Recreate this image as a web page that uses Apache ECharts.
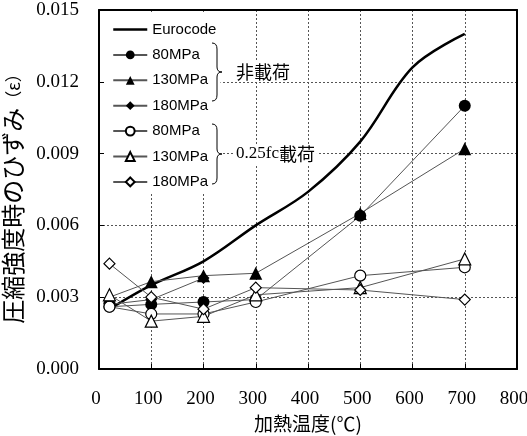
<!DOCTYPE html>
<html>
<head>
<meta charset="utf-8">
<script src="https://cdn.jsdelivr.net/npm/echarts@6/dist/echarts.min.js"></script>
<style>
  html, body { margin: 0; padding: 0; background: #fff; }
  #chart { width: 527px; height: 436px; }
</style>
</head>
<body>
<div id="chart"></div>
<script>
// Heating temperatures (°C) at which specimens were tested
const temps = [20, 100, 200, 300, 500, 700];

// Eurocode strain at peak stress
const eurocodeTemps = [20, 100, 200, 300, 400, 500, 600, 700];
const eurocode = [0.0025, 0.0035, 0.0045, 0.0060, 0.0074, 0.0095, 0.0126, 0.0140];

// Unloaded specimens (非載荷)
const unloaded80 = [0.0026, 0.0027, 0.0028, 0.0029, 0.0064, 0.0110];
const unloaded130 = [0.0030, 0.00365, 0.0039, 0.0040, 0.0065, 0.0092];
const unloaded180 = [0.0027, 0.0029, 0.0038, null, null, null];

// Specimens heated under 0.25fc load (0.25fc載荷)
const loaded80 = [0.0026, 0.0023, 0.0023, 0.0028, 0.0039, 0.00425];
const loaded130 = [0.0031, 0.0020, 0.0022, 0.0031, 0.0034, 0.0046];
const loaded180 = [0.0044, 0.0030, 0.0025, 0.0034, 0.0033, 0.0029];

// Axis ticks
const xTicks = [0, 100, 200, 300, 400, 500, 600, 700, 800];
const yTicks = [0.000, 0.003, 0.006, 0.009, 0.012, 0.015];

const strengthLabels = ['80MPa', '130MPa', '180MPa'];

const pairs = (xs, ys) => xs.map((x, i) => [x, ys[i]]);

const serif = '"Liberation Serif", "Times New Roman", serif';
const sans = '"Liberation Sans", Arial, sans-serif';
const cjk = '"Noto Sans CJK JP", sans-serif';

function markerSeries(name, data, symbol, size, filled) {
  return {
    name: name,
    type: 'line',
    data: pairs(temps, data),
    symbol: symbol,
    symbolSize: size,
    showAllSymbol: true,
    connectNulls: false,
    lineStyle: { color: '#555', width: 1 },
    itemStyle: {
      color: filled ? '#000' : '#fff',
      borderColor: '#000',
      borderWidth: filled ? 0 : 1.2
    },
    emphasis: { disabled: true },
    z: 3
  };
}

const series = [
  {
    name: 'Eurocode',
    type: 'line',
    data: pairs(eurocodeTemps, eurocode),
    symbol: 'none',
    smooth: 0.35,
    lineStyle: { color: '#000', width: 2.5 },
    itemStyle: { color: '#000' },
    emphasis: { disabled: true },
    z: 2
  },
  markerSeries('非載荷 ' + strengthLabels[0], unloaded80, 'circle', 12, true),
  markerSeries('非載荷 ' + strengthLabels[1], unloaded130, 'triangle', 13, true),
  markerSeries('非載荷 ' + strengthLabels[2], unloaded180, 'diamond', 12, true),
  markerSeries('0.25fc載荷 ' + strengthLabels[0], loaded80, 'circle', 11, false),
  markerSeries('0.25fc載荷 ' + strengthLabels[1], loaded130, 'triangle', 12, false),
  markerSeries('0.25fc載荷 ' + strengthLabels[2], loaded180, 'diamond', 11, false)
];

// Right-facing curly brace built from lines and quadratic curves
function brace(x0, y1, y2) {
  const xm = x0 + 5, xt = x0 + 10, ym = (y1 + y2) / 2;
  const st = { stroke: '#000', lineWidth: 1, fill: null };
  const curve = (a, b, c, d, e, f) => ({
    type: 'bezierCurve', z: 100, shape: { x1: a, y1: b, x2: c, y2: d, cpx1: e, cpy1: f }, style: st
  });
  const seg = (a, b, c, d) => ({ type: 'line', z: 100, shape: { x1: a, y1: b, x2: c, y2: d }, style: st });
  return [
    curve(x0, y1, xm, y1 + 6, xm, y1),
    seg(xm, y1 + 6, xm, ym - 5),
    curve(xm, ym - 5, xt, ym, xm, ym),
    curve(xt, ym, xm, ym + 5, xm, ym),
    seg(xm, ym + 5, xm, y2 - 6),
    curve(xm, y2 - 6, x0, y2, xm, y2)
  ];
}

const frameAxisLine = { show: true, onZero: false, lineStyle: { color: '#000', width: 2 } };
const gridLine = { show: true, lineStyle: { color: '#555', width: 1, type: [2, 2] } };

const legendData = series.map(s => s.name === 'Eurocode'
  ? { name: s.name, itemStyle: { opacity: 0 }, lineStyle: { color: '#000', width: 2.5 } }
  : s.name);

const chart = echarts.init(document.getElementById('chart'), null, { renderer: 'canvas' });

chart.setOption({
  backgroundColor: '#fff',
  animation: false,
  grid: {
    left: 99, top: 10, right: 10, bottom: 67,
    outerBoundsMode: 'none',
    containLabel: false
  },
  xAxis: [
    {
      type: 'value',
      min: xTicks[0], max: xTicks[xTicks.length - 1], interval: xTicks[1] - xTicks[0],
      name: '加熱温度(℃)',
      nameLocation: 'middle',
      nameGap: 43,
      nameTextStyle: { fontFamily: cjk, fontSize: 19, color: '#000' },
      axisLine: frameAxisLine,
      axisTick: { inside: true, length: 5, lineStyle: { color: '#000' } },
      axisLabel: { fontFamily: serif, fontSize: 19, color: '#000', margin: 21, padding: [0, 6, 0, 0] },
      splitLine: gridLine
    },
    {
      type: 'value', position: 'top',
      min: xTicks[0], max: xTicks[xTicks.length - 1], interval: xTicks[1] - xTicks[0],
      axisLine: frameAxisLine,
      axisTick: { show: false }, axisLabel: { show: false }, splitLine: { show: false }
    }
  ],
  yAxis: [
    {
      type: 'value',
      min: yTicks[0], max: yTicks[yTicks.length - 1], interval: yTicks[1] - yTicks[0],
      name: '{a|圧縮強度時のひずみ}{b|（ε）}',
      nameLocation: 'middle',
      nameGap: 68,
      nameTextStyle: {
        padding: [0, 10, 0, 0],
        rich: {
          a: { fontFamily: cjk, fontSize: 24, color: '#000' },
          b: { fontFamily: cjk, fontSize: 17, color: '#000' }
        }
      },
      axisLine: frameAxisLine,
      axisTick: { inside: true, length: 5, lineStyle: { color: '#000' } },
      axisLabel: {
        fontFamily: serif, fontSize: 19, color: '#000', margin: 20,
        formatter: v => v.toFixed(3)
      },
      splitLine: gridLine
    },
    {
      type: 'value', position: 'right',
      min: yTicks[0], max: yTicks[yTicks.length - 1], interval: yTicks[1] - yTicks[0],
      axisLine: frameAxisLine,
      axisTick: { show: false }, axisLabel: { show: false }, splitLine: { show: false }
    }
  ],
  legend: {
    orient: 'vertical',
    left: 104,
    top: 12,
    padding: [10, 4, 4, 8],
    backgroundColor: '#fff',
    itemWidth: 34,
    itemHeight: 11,
    itemGap: 10.4,
    itemTextGap: 4,
    selectedMode: false,
    textStyle: { fontFamily: sans, fontSize: 15, color: '#000' },
    formatter: name => name.split(' ').pop(),
    data: legendData
  },
  graphic: [
    ...brace(212, 43, 101),
    ...brace(212, 124, 184),
    {
      type: 'text', z: 100, left: 234, top: 62,
      style: {
        text: '非載荷',
        font: '18px ' + cjk,
        fill: '#000',
        backgroundColor: '#fff',
        padding: [1, 2, 1, 2]
      }
    },
    {
      type: 'text', z: 100, left: 234, top: 144,
      style: {
        text: '{s|0.25fc}{j|載荷}',
        backgroundColor: '#fff',
        padding: [1, 2, 1, 2],
        rich: {
          s: { fontFamily: serif, fontSize: 17, fill: '#000' },
          j: { fontFamily: cjk, fontSize: 18, fill: '#000' }
        }
      }
    }
  ],
  series: series
});
</script>
</body>
</html>
